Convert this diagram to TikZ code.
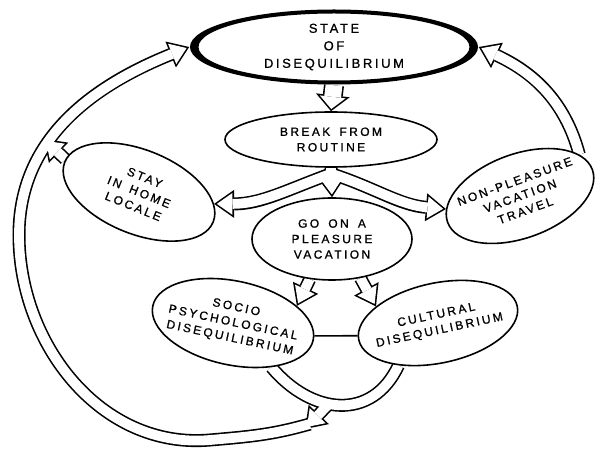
\documentclass[tikz,border=0pt]{standalone}
\usepackage{fontspec}
\newfontfamily\spaced[LetterSpace=20, WordSpace=1.6, FakeBold=0.9]{Liberation Sans}
\usepackage{tikz}
\usetikzlibrary{shapes.geometric}
\usetikzlibrary{arrows.meta,calc,backgrounds}

% open double arrows: #1=out draws the black outline, #1=in the white inside
\newcommand\links[1]{%
  \draw[fat#1] (state.south) -- (brk.north);
  \draw[arr#1] (brk.south) -- (go.north);
  \draw[arr#1] (fork) to[out=200, in=0] (stay.13);
  \draw[arr#1] (fork) to[out=-18, in=175] (nonpl.170);
  \draw[arr#1] (go.241) -- (socio.27);
  \draw[arr#1] (go.306) -- (cultural.153);
  \draw[band#1] (socio.-37) to[out=-50, in=-115, looseness=1.25] coordinate[pos=0.42] (ubend) (cultural.215);
  \draw[arr#1] ($(ubend)!0.8!(merge)$) to[out=196, in=5] (lowest)
      to[out=185, in=-90] (leftmost) to[out=90, in=202] (state.west);
  \draw[arr#1] (ubend) -- (merge);
  \draw[arr#1] (stay.178) -- (join);
  \draw[arr#1] (nonpl.15) to[out=105, in=-25] (state.east);
}

\begin{document}
\begin{tikzpicture}[
    x=1pt, y=1pt,
    bubble/.style={
        ellipse,
        draw,
        line width=1.6pt,
        fill=white,
        inner sep=-30pt,
        align=center,
        font=\spaced\fontsize{12}{15.5}\selectfont
    },
    fatout/.style={draw=black, line width=20pt,
        -{Triangle[length=16pt, width=34pt, line width=0pt]}},
    fatin/.style={draw=white, line width=16.8pt, shorten >=2.2pt,
        -{Triangle[length=12.2pt, width=25.9pt, line width=0pt]}},
    arrout/.style={draw=black, line width=13pt,
        -{Triangle[length=20pt, width=28pt, line width=0pt]}},
    arrin/.style={draw=white, line width=9.8pt, shorten >=2.8pt,
        -{Triangle[length=15.6pt, width=21.9pt, line width=0pt]}},
    bandout/.style={draw=black, line width=13pt},
    bandin/.style={draw=white, line width=9.8pt}
]

\useasboundingbox (0,0) rectangle (595,450);

% ==========================================================
% STATE
% ==========================================================
\node[bubble, draw=none, minimum width=288pt, minimum height=75pt,
      font=\spaced\fontsize{13}{17.5}\selectfont] (state) at (334,403) {STATE\\OF\\DISEQUILIBRIUM};
\fill[even odd rule] (state.center) ellipse [x radius=144, y radius=37.5]
      ellipse [x radius=135.5, y radius=33.5];

% ==========================================================
% CHOICES
% ==========================================================
\node[bubble, minimum width=212pt, minimum height=55pt] (brk) at (331,310.5) {BREAK FROM\\ROUTINE};
\node[bubble, minimum width=160pt, minimum height=82pt] (go) at (332,211) {GO ON A\\PLEASURE\\VACATION};
\node[bubble, rotate=-22, minimum width=160pt, minimum height=84pt] (stay) at (139,258) {STAY\\IN HOME\\LOCALE};
\node[bubble, rotate=20, minimum width=154pt, minimum height=84pt] (nonpl) at (520,254) {NON-PLEASURE\\VACATION\\TRAVEL};

% ==========================================================
% MOTIVES
% ==========================================================
\node[bubble, rotate=-12, minimum width=164pt, minimum height=84pt] (socio) at (233,127) {SOCIO\\PSYCHOLOGICAL\\DISEQUILIBRIUM};
\node[bubble, rotate=12, minimum width=162pt, minimum height=80pt] (cultural) at (438,127) {CULTURAL\\DISEQUILIBRIUM};

\coordinate (fork) at ($(brk.south)!0.2!(go.north)$);
\coordinate (merge) at (305,21);
\coordinate (join) at (44,311);
\coordinate (lowest) at (210,10);
\coordinate (leftmost) at (19,215);

% ==========================================================
% CONNECTIONS
% ==========================================================
\begin{scope}[on background layer]
\links{out}
\links{in}
\end{scope}

\draw[line width=1.6pt] (socio.3) -- (cultural.177);

\end{tikzpicture}
\end{document}
